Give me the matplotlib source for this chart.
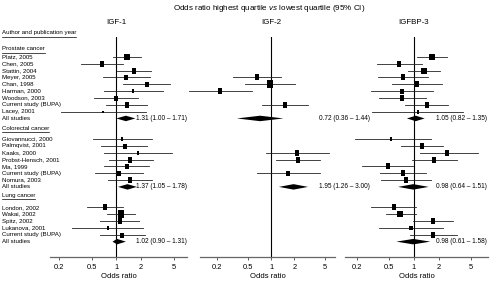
import numpy as np
import matplotlib
matplotlib.use("Agg")
import matplotlib.pyplot as plt
from matplotlib.lines import Line2D
from matplotlib.patches import Polygon
from matplotlib.transforms import blended_transform_factory, IdentityTransform

plt.rcParams['font.family'] = ['Liberation Sans', 'DejaVu Sans']
plt.rcParams['mathtext.fontset'] = 'custom'
plt.rcParams['mathtext.rm'] = 'Liberation Sans'
plt.rcParams['mathtext.it'] = 'Liberation Sans:italic'

nan = np.nan

cancers = ["Prostate cancer", "Colorectal cancer", "Lung cancer"]
prostate_studies = ["Platz, 2005", "Chen, 2005", "Stattin, 2004", "Meyer, 2005", "Chan, 1998",
                    "Harman, 2000", "Woodson, 2003", "Current study (BUPA)", "Lacey, 2001"]
colorectal_studies = ["Giovannucci, 2000", "Palmqvist, 2001", "Kaaks, 2000", "Probst-Hensch, 2001",
                      "Ma, 1999", "Current study (BUPA)", "Nomura, 2003"]
lung_studies = ["London, 2002", "Wakai, 2002", "Spitz, 2002", "Lukanova, 2001", "Current study (BUPA)"]

panels = ["IGF-1", "IGF-2", "IGFBP-3"]
tick_vals = [0.2, 0.5, 1, 2, 5]
tick_labels = ["0.2", "0.5", "1", "2", "5"]

# study estimates, rows = prostate + colorectal + lung studies
igf1_or = [1.35, 0.67, 1.64, 1.32, 2.34, 1.62, 1.00, 1.35, 0.69,
           1.19, 1.26, 1.84, 1.48, 1.35, 1.09, 1.47,
           0.73, 1.15, 1.10, 0.79, 1.19]
igf1_lo = [0.92, 0.37, 1.03, 0.68, 1.21, 0.70, 0.54, 0.75, 0.21,
           0.52, 0.65, 0.71, 0.81, 0.71, 0.55, 0.80,
           0.44, 0.77, 0.64, 0.29, 0.63]
igf1_hi = [2.00, 1.21, 2.63, 2.59, 4.56, 3.69, 1.83, 2.40, 2.30,
           2.76, 2.40, 4.77, 2.81, 2.52, 2.10, 2.76,
           1.21, 1.71, 1.88, 2.10, 2.26]
igf1_w = [5.0, 3.8, 4.5, 3.6, 3.6, 2.8, 3.6, 3.8, 1.8,
          2.6, 3.6, 2.2, 4.0, 3.6, 3.6, 3.8,
          4.5, 5.5, 4.2, 2.2, 3.6]
igf1_pooled = [(1.31, 1.00, 1.71), (1.37, 1.05, 1.78), (1.02, 0.90, 1.31)]

igf2_or = [nan, nan, nan, 0.65, 0.98, 0.22, nan, 1.50, nan,
           nan, nan, 2.19, 2.21, nan, 1.64, nan,
           nan, nan, nan, nan, nan]
igf2_lo = [nan, nan, nan, 0.32, 0.46, 0.087, nan, 0.76, nan,
           nan, nan, 0.85, 1.15, nan, 0.65, nan,
           nan, nan, nan, nan, nan]
igf2_hi = [nan, nan, nan, 1.33, 2.06, 0.57, nan, 3.01, nan,
           nan, nan, 5.62, 4.26, nan, 4.26, nan,
           nan, nan, nan, nan, nan]
igf2_w = [0, 0, 0, 4.3, 5.2, 4.3, 0, 4.5, 0,
          0, 0, 4.3, 4.5, 0, 3.6, 0,
          0, 0, 0, 0, 0]
igf2_pooled = [(0.72, 0.36, 1.44), (1.95, 1.26, 3.00), None]

igfbp3_or = [1.64, 0.66, 1.32, 0.73, 1.09, 0.71, 0.71, 1.43, 1.11,
             0.53, 1.25, 2.50, 1.77, 0.48, 0.73, 0.81,
             0.57, 0.68, 1.69, 0.91, 1.72]
igfbp3_lo = [1.10, 0.35, 0.85, 0.36, 0.54, 0.30, 0.37, 0.78, 0.31,
             0.19, 0.69, 1.18, 0.94, 0.23, 0.39, 0.40,
             0.30, 0.46, 0.98, 0.37, 0.89]
igfbp3_hi = [2.55, 1.24, 2.07, 1.50, 2.17, 1.72, 1.40, 2.62, 4.00,
             1.60, 2.24, 6.09, 3.31, 0.96, 1.40, 1.61,
             1.06, 1.06, 3.02, 2.28, 3.38]
igfbp3_w = [5.0, 4.3, 4.8, 4.0, 4.0, 3.6, 4.0, 4.0, 2.2,
            2.6, 3.8, 4.0, 4.0, 4.0, 4.0, 4.0,
            4.3, 5.0, 4.0, 3.0, 4.0]
igfbp3_pooled = [(1.05, 0.82, 1.35), (0.98, 0.64, 1.51), (0.98, 0.61, 1.58)]

# row layout
groups = [prostate_studies, colorectal_studies, lung_studies]
header_offset = [1.17, 1.56, 1.75]
study_y, pooled_y, header_y = [], [], []
y = 0
for g, studies in enumerate(groups):
    header_y.append(y - header_offset[g])
    for s in studies:
        study_y.append(y)
        y += 1
    pooled_y.append(y)
    y += 3

W, H = 493, 286
fig = plt.figure(figsize=(W / 100, H / 100), dpi=100)
bottom = 1 - 256.7 / H
height = (256.7 - 37) / H
ax_px = [(50, 137), (200, 135), (345, 143)]
xlims = [(0.155, 7.3), (0.12, 6.7), (0.144, 8.0)]
text_x = [1.75, 4.1, 1.88]

rect = [(-0.38, -0.5), (0.38, -0.5), (0.38, 0.5), (-0.38, 0.5), (-0.38, -0.5)]

panel_data = [
    (igf1_or, igf1_lo, igf1_hi, igf1_w, igf1_pooled),
    (igf2_or, igf2_lo, igf2_hi, igf2_w, igf2_pooled),
    (igfbp3_or, igfbp3_lo, igfbp3_hi, igfbp3_w, igfbp3_pooled),
]

axes = []
for p, (ors, los, his, ws, pooled) in enumerate(panel_data):
    left, width = ax_px[p]
    ax = fig.add_axes([left / W, bottom, width / W, height])
    ax.set_facecolor('none')
    axes.append(ax)
    ax.set_xscale('log')
    ax.set_xlim(xlims[p])
    ax.set_ylim(29.2, -2.9)
    ax.axvline(1, color='black', lw=0.8)
    for i, yy in enumerate(study_y):
        if np.isnan(ors[i]):
            continue
        ax.plot([los[i], his[i]], [yy, yy], color='#222222', lw=0.6, clip_on=False)
        ax.plot(ors[i], yy, marker=rect, ms=ws[i], color='black', mec='black', mew=0, clip_on=False)
    for g, est in enumerate(pooled):
        if est is None:
            continue
        o, l, h = est
        yy = pooled_y[g]
        ax.add_patch(Polygon([(l, yy), (o, yy - 0.4), (h, yy), (o, yy + 0.4)],
                             closed=True, color='black', lw=0, clip_on=False))
        ax.text(text_x[p], yy, f"{o:.2f} ({l:.2f} \u2013 {h:.2f})", va='center', ha='left',
                fontsize=4.7, clip_on=False, zorder=5)
    ax.text(1, -5.07, panels[p], ha='center', va='center', fontsize=5.7, clip_on=False)
    for side in ['top', 'left', 'right']:
        ax.spines[side].set_visible(False)
    ax.spines['bottom'].set_color('#666666')
    ax.spines['bottom'].set_linewidth(0.9)
    ax.set_xticks(tick_vals)
    ax.set_xticklabels(tick_labels)
    ax.xaxis.set_minor_locator(matplotlib.ticker.NullLocator())
    ax.tick_params(axis='x', length=2.5, width=0.6, pad=2.5, labelsize=5.4, color='#444444')
    ax.set_yticks([])
    ax.set_xlabel("Odds ratio", fontsize=5.5, labelpad=2)

ax1 = axes[0]
lab_tr = blended_transform_factory(fig.transFigure, ax1.transData)
lx = 2 / W
fs_lab = 4.4
header_texts = []
t = ax1.text(lx, -3.6, "Author and publication year", transform=lab_tr, fontsize=fs_lab,
             va='center', ha='left', clip_on=False)
header_texts.append((t, -3.6 + 0.73))
for g, studies in enumerate(groups):
    t = ax1.text(lx, header_y[g], cancers[g], transform=lab_tr, fontsize=fs_lab,
                 va='center', ha='left', clip_on=False)
    header_texts.append((t, header_y[g] + 0.55))
idx = 0
for g, studies in enumerate(groups):
    for s in studies:
        ax1.text(lx, study_y[idx], s, transform=lab_tr, fontsize=fs_lab, va='center', ha='left',
                 clip_on=False)
        idx += 1
    ax1.text(lx, pooled_y[g], "All studies", transform=lab_tr, fontsize=fs_lab, va='center', ha='left',
             clip_on=False)

fig.text(269 / W, 1 - 8 / H, "Odds ratio highest quartile $\\mathit{vs}$ lowest quartile (95% CI)",
         ha='center', va='center', fontsize=5.8)

fig.canvas.draw()
for t, uy in header_texts:
    bb = t.get_window_extent()
    ydisp = ax1.transData.transform((1, uy))[1]
    fig.add_artist(Line2D([bb.x0, bb.x1], [ydisp, ydisp], transform=IdentityTransform(),
                          color='black', lw=0.5))

fig.savefig("out.png", dpi=100)
